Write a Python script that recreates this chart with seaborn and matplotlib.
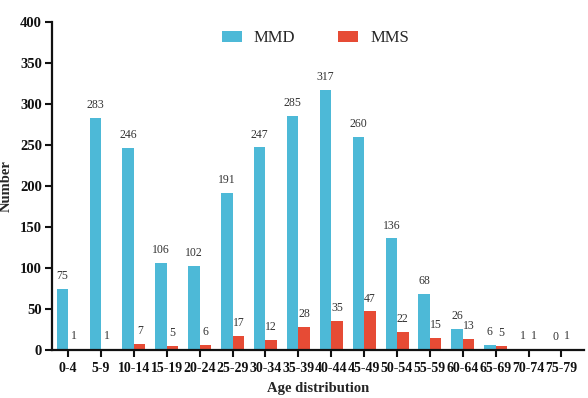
import pandas as pd
import seaborn as sns
import matplotlib.pyplot as plt

# age groups and counts
age_groups = ['0-4', '5-9', '10-14', '15-19', '20-24', '25-29', '30-34', '35-39',
              '40-44', '45-49', '50-54', '55-59', '60-64', '65-69', '70-74', '75-79']
mmd = [75, 283, 246, 106, 102, 191, 247, 285, 317, 260, 136, 68, 26, 6, 1, 0]
mms = [1, 1, 7, 5, 6, 17, 12, 28, 35, 47, 22, 15, 13, 5, 1, 1]
groups = ['MMD', 'MMS']
colors = ['#4DB9D7', '#E64B35']

df = pd.DataFrame({
    'age': age_groups * 2,
    'group': ['MMD'] * len(age_groups) + ['MMS'] * len(age_groups),
    'count': mmd + mms,
})

sns.set_style('ticks')
plt.rcParams['font.family'] = ['Liberation Serif', 'DejaVu Serif']

fig = plt.figure(figsize=(5.88, 3.98), dpi=100)
ax = fig.add_axes([0.088, 0.1206, 0.906, 0.824])

sns.barplot(data=df, x='age', y='count', hue='group', hue_order=groups,
            palette=colors, width=0.7, gap=0, saturation=1, linewidth=0, ax=ax)

for cont in ax.containers:
    ax.bar_label(cont, padding=5, fontsize=8.5, color='#333333')

ax.set_ylim(0, 400)
ax.set_xlim(-0.5, 15.7)
ax.set_yticks(range(0, 401, 50))
sns.despine(ax=ax)
for s in ['left', 'bottom']:
    ax.spines[s].set_linewidth(1.6)
    ax.spines[s].set_color('#111111')
ax.tick_params(axis='both', width=1.5, length=5, colors='#111111')
ax.tick_params(axis='y', labelsize=10.5, pad=2)
ax.tick_params(axis='x', labelsize=10)
for lab in ax.get_xticklabels() + ax.get_yticklabels():
    lab.set_fontweight('bold')

ax.set_xlabel('Age distribution', fontsize=10.5, fontweight='bold', labelpad=5)
ax.set_ylabel('Number', fontsize=10.5, fontweight='bold', labelpad=5)

leg = ax.legend(loc='upper center', bbox_to_anchor=(0.495, 1.02), ncol=2, frameon=False,
                fontsize=12, handlelength=1.2, handleheight=0.6, handletextpad=0.7,
                columnspacing=2.6)

fig.savefig('out.png', dpi=100)
